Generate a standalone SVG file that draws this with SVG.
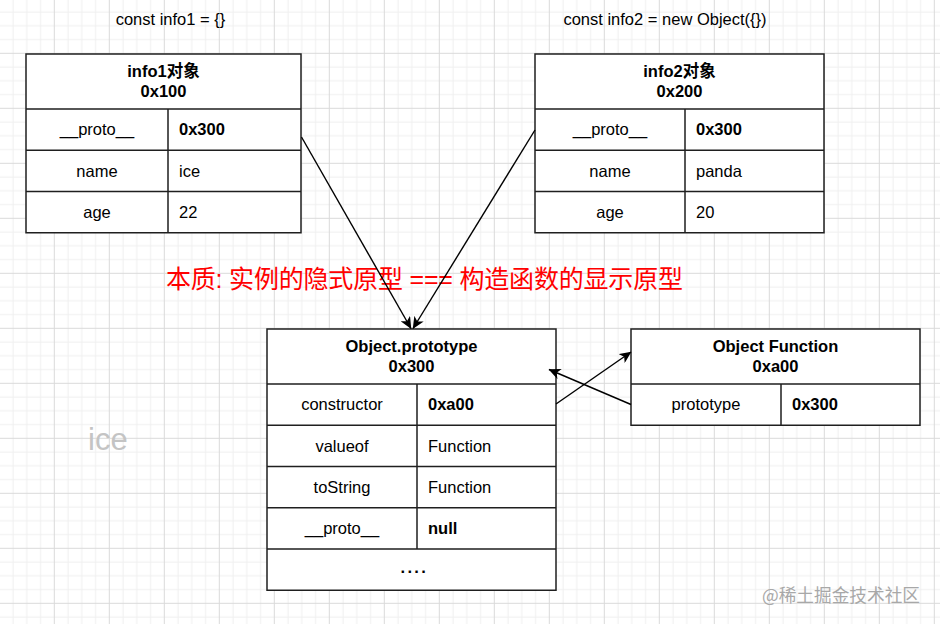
<svg xmlns="http://www.w3.org/2000/svg" width="940" height="624" viewBox="0 0 940 624">
<style>
.cell{fill:#fff;stroke:#1f1f1f;stroke-width:1.5}
.ln{stroke:#1f1f1f;stroke-width:1.5;fill:none}
.t{font-family:"Liberation Sans","Noto Sans CJK SC",sans-serif;font-size:16.5px;fill:#000}
.b{font-weight:bold}
.c{text-anchor:middle}
.conn{stroke:#000;stroke-width:1.4;fill:none;marker-end:url(#arr)}
</style>
<defs>
<pattern id="grid" x="26.8" y="25.8" width="55" height="55" patternUnits="userSpaceOnUse">
<rect width="55" height="55" fill="#fff"/>
<path d="M0 0V55M13.75 0V55M41.25 0V55M55 0V55M0 0H55M0 13.75H55M0 41.25H55M0 55H55" stroke="#efefef" stroke-width="1"/>
<path d="M27.5 0V55M0 27.5H55" stroke="#dadada" stroke-width="1"/>
</pattern>
<marker id="arr" viewBox="0 0 12 11" markerUnits="userSpaceOnUse" markerWidth="12" markerHeight="11" refX="11.5" refY="5.5" orient="auto">
<path d="M0,0 L12,5.5 L0,11 L3.2,5.5 Z" fill="#000"/>
</marker>
</defs>
<rect width="940" height="624" fill="url(#grid)"/>

<g id="label-info1">
<text class="t c" x="170.5" y="25">const info1 = {}</text>
</g>
<g id="label-info2">
<text class="t c" x="665" y="25">const info2 = new Object({})</text>
</g>

<g id="info1">
<rect class="cell" x="26" y="54" width="275" height="178.75"/>
<path class="ln" d="M26 109H301M26 150.25H301M26 191.5H301M168 109V232.75"/>
<text class="t b c" x="163.5" y="77.3">info1对象</text>
<text class="t b c" x="163.5" y="97.1">0x100</text>
<text class="t c" x="97" y="135.4">__proto__</text>
<text class="t b" x="179" y="135.4">0x300</text>
<text class="t c" x="97" y="176.7">name</text>
<text class="t" x="179" y="176.7">ice</text>
<text class="t c" x="97" y="217.9">age</text>
<text class="t" x="179" y="217.9">22</text>
</g>

<g id="info2">
<rect class="cell" x="535" y="54" width="289" height="178.75"/>
<path class="ln" d="M535 109H824M535 150.25H824M535 191.5H824M685 109V232.75"/>
<text class="t b c" x="679.5" y="77.3">info2对象</text>
<text class="t b c" x="679.5" y="97.1">0x200</text>
<text class="t c" x="610" y="135.4">__proto__</text>
<text class="t b" x="696" y="135.4">0x300</text>
<text class="t c" x="610" y="176.7">name</text>
<text class="t" x="696" y="176.7">panda</text>
<text class="t c" x="610" y="217.9">age</text>
<text class="t" x="696" y="217.9">20</text>
</g>

<g id="note">
<text x="166" y="288" font-family="Liberation Sans, Noto Sans CJK SC, sans-serif" font-size="25" fill="#ff0000" textLength="517" lengthAdjust="spacing">本质: 实例的隐式原型 === 构造函数的显示原型</text>
</g>

<g id="object-prototype">
<rect class="cell" x="267" y="329" width="289" height="261.25"/>
<path class="ln" d="M267 384H556M267 425.25H556M267 466.5H556M267 507.75H556M267 549H556M417 384V549"/>
<text class="t b c" x="411.5" y="352.4">Object.prototype</text>
<text class="t b c" x="411.5" y="372.2">0x300</text>
<text class="t c" x="342" y="410.4">constructor</text>
<text class="t b" x="428" y="410.4">0xa00</text>
<text class="t c" x="342" y="451.7">valueof</text>
<text class="t" x="428" y="451.7">Function</text>
<text class="t c" x="342" y="492.9">toString</text>
<text class="t" x="428" y="492.9">Function</text>
<text class="t c" x="342" y="534.2">__proto__</text>
<text class="t b" x="428" y="534.2">null</text>
<text class="t b" x="400.5" y="572.5" font-size="18" letter-spacing="2.3">....</text>
</g>

<g id="object-function">
<rect class="cell" x="631" y="329" width="289" height="96.25"/>
<path class="ln" d="M631 384H920M781 384V425.25"/>
<text class="t b c" x="775.5" y="352.4">Object Function</text>
<text class="t b c" x="775.5" y="372.2">0xa00</text>
<text class="t c" x="706" y="410.4">prototype</text>
<text class="t b" x="792" y="410.4">0x300</text>
</g>

<g id="connectors">
<line class="conn" x1="301.5" y1="137" x2="411" y2="328.5"/>
<line class="conn" x1="535" y1="130" x2="413" y2="328.5"/>
<line class="conn" x1="556" y1="404" x2="631" y2="352"/>
<line class="conn" x1="631" y1="404.5" x2="549" y2="369.5"/>
</g>

<g id="ice-label">
<text x="88" y="450" font-family="Liberation Sans, sans-serif" font-size="31" fill="#c4c4c4">ice</text>
</g>

<g id="watermark">
<text x="762" y="602" font-family="Noto Sans CJK SC, sans-serif" font-size="18" fill="#a8a8a8" textLength="158" lengthAdjust="spacingAndGlyphs">@稀土掘金技术社区</text>
</g>
</svg>
